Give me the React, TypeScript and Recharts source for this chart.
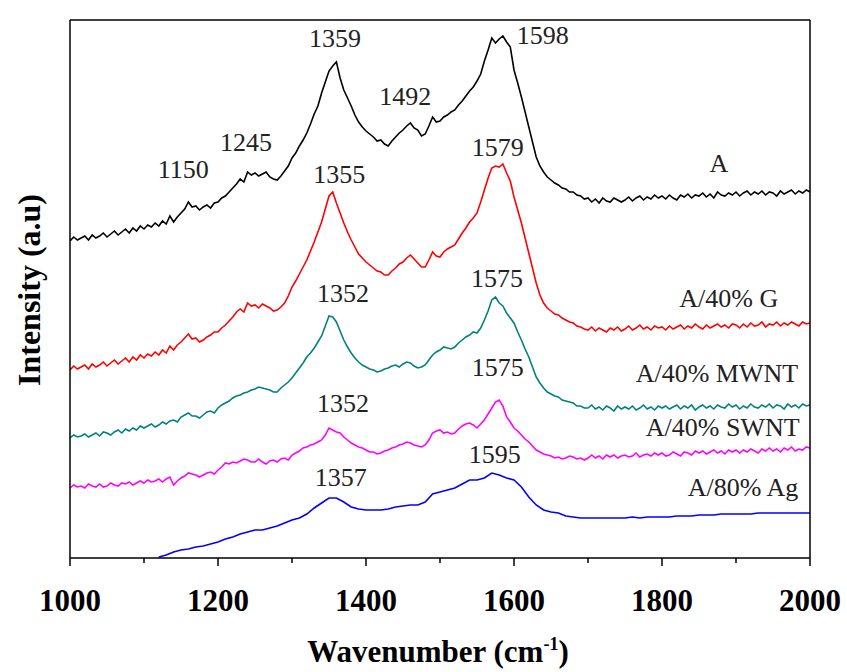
import React from 'react';
import { LineChart, Line, XAxis, YAxis, ReferenceDot, Label } from 'recharts';

// Raman shift grids (cm⁻¹)
const grid5: number[] = [];
for (let w = 1000; w <= 2000; w += 5) grid5.push(w);
const grid10: number[] = [];
for (let w = 1000; w <= 2000; w += 10) grid10.push(w);

// Offset-stacked intensities (a.u.), sampled every 5 cm⁻¹
const seriesA = [
  317, 321, 318, 320, 322, 318, 323, 320, 322, 325,
  321, 324, 327, 323, 326, 329, 325, 330, 327, 332,
  329, 333, 331, 335, 332, 337, 334, 342, 336, 341,
  345, 349, 356, 351, 352, 348, 351, 353, 350, 355,
  356, 360, 362, 366, 370, 374, 379, 376, 386, 383,
  385, 382, 384, 386, 381, 379, 378, 382, 387, 392,
  400, 405, 412, 418, 425, 434, 444, 452, 465, 476,
  487, 492, 496, 480, 468, 460, 452, 443, 436, 431,
  427, 424, 421, 417, 418, 414, 412, 417, 421, 425,
  428, 432, 435, 430, 428, 422, 424, 432, 441, 436,
  437, 441, 443, 446, 448, 453, 457, 462, 467, 471,
  477, 484, 497, 508, 520, 515, 519, 522, 516, 511,
  488, 475, 461, 446, 431, 416, 401, 392, 386, 381,
  378, 375, 373, 370, 369, 366, 366, 363, 362, 359,
  360, 356, 359, 355, 360, 357, 356, 360, 358, 356,
  358, 361, 357, 360, 362, 358, 361, 359, 363, 360,
  362, 359, 363, 360, 358, 363, 361, 364, 360, 363,
  362, 365, 361, 364, 360, 366, 363, 362, 365, 363,
  366, 362, 365, 367, 363, 366, 364, 367, 363, 366,
  365, 362, 367, 364, 366, 368, 364, 367, 365, 368,
  366,
];
const seriesG = [
  188, 192, 189, 191, 193, 189, 194, 191, 193, 196,
  192, 195, 198, 194, 197, 200, 196, 201, 198, 203,
  200, 204, 202, 206, 203, 208, 205, 212, 208, 213,
  216, 220, 224, 219, 220, 216, 218, 221, 223, 226,
  226, 230, 233, 237, 241, 246, 249, 246, 255, 252,
  253, 250, 254, 252, 250, 247, 248, 251, 255, 262,
  271, 277, 284, 291, 298, 307, 316, 326, 336, 349,
  362, 366, 355, 345, 335, 326, 318, 311, 304, 300,
  296, 293, 290, 287, 286, 283, 283, 287, 290, 294,
  296, 300, 303, 299, 295, 291, 291, 298, 306, 302,
  301, 306, 309, 311, 313, 319, 325, 330, 336, 340,
  345, 356, 368, 380, 390, 392, 391, 394, 385, 377,
  361, 348, 335, 320, 305, 290, 275, 263, 255, 250,
  247, 244, 243, 240, 238, 236, 235, 232, 231, 229,
  228, 231, 227, 230, 228, 226, 230, 228, 231, 227,
  229, 232, 228, 230, 233, 229, 231, 228, 232, 230,
  231, 228, 232, 229, 231, 233, 229, 232, 230, 234,
  231, 229, 233, 230, 232, 234, 231, 233, 230, 234,
  233, 230, 234, 231, 235, 232, 233, 236, 231, 234,
  233, 236, 232, 235, 233, 236, 234, 232, 236, 234,
  235,
];
const seriesMWNT = [
  120, 123, 121, 122, 124, 121, 123, 125, 122, 126,
  125, 123, 126, 128, 125, 129, 127, 130, 128, 132,
  130, 132, 134, 131, 133, 136, 134, 137, 138, 136,
  141, 143, 145, 142, 142, 140, 143, 146, 147, 145,
  150, 153, 155, 157, 160, 162, 163, 165, 166, 168,
  169, 171, 170, 169, 168, 166, 166, 170, 173, 176,
  180, 185, 190, 195, 201, 205, 210, 216, 222, 232,
  242, 241, 236, 227, 218, 211, 205, 200, 196, 193,
  191, 189, 188, 186, 187, 189, 190, 192, 193, 191,
  194, 196, 195, 192, 190, 191, 193, 198, 203, 206,
  208, 211, 210, 209, 211, 215, 218, 221, 223, 226,
  225, 230, 238, 247, 258, 261, 255, 252, 245, 240,
  235, 226, 218, 209, 201, 191, 181, 175, 170, 166,
  164, 162, 161, 158, 157, 156, 155, 152, 152, 150,
  150, 153, 149, 151, 148, 152, 150, 147, 152, 149,
  151, 149, 152, 148, 150, 153, 149, 151, 148, 152,
  150, 152, 149, 151, 153, 149, 152, 150, 153, 148,
  151, 153, 150, 152, 149, 153, 151, 150, 154, 151,
  153, 149, 152, 150, 154, 151, 150, 153, 151, 154,
  150, 153, 152, 149, 154, 151, 153, 150, 154, 152,
  153,
];
const seriesSWNT = [
  70, 73, 71, 72, 70, 74, 72, 71, 74, 71,
  72, 75, 73, 72, 75, 74, 76, 73, 75, 77,
  75, 78, 76, 77, 79, 76, 79, 81, 73, 77,
  80, 82, 85, 84, 83, 81, 83, 85, 86, 84,
  88, 91, 95, 94, 96, 95, 97, 99, 98, 96,
  96, 99, 96, 94, 97, 98, 96, 99, 100, 98,
  103, 105, 107, 110, 111, 113, 114, 116, 118, 123,
  130, 128, 126, 125, 121, 118, 115, 113, 111, 110,
  108, 106, 106, 104, 105, 107, 108, 110, 111, 113,
  114, 116, 115, 113, 112, 111, 113, 118, 125, 127,
  128, 125, 126, 124, 125, 129, 132, 134, 135, 133,
  130, 134, 138, 144, 150, 156, 158, 152, 141, 136,
  130, 127, 123, 119, 116, 112, 108, 106, 104, 103,
  102, 100, 101, 99, 100, 102, 101, 99, 100, 98,
  100, 103, 100, 102, 99, 103, 101, 103, 100, 102,
  103, 101, 102, 105, 101, 103, 104, 102, 105, 103,
  105, 102, 103, 106, 104, 102, 106, 105, 103, 107,
  105, 107, 104, 106, 108, 105, 107, 104, 108, 106,
  108, 105, 108, 106, 109, 107, 105, 109, 107, 110,
  107, 109, 106, 110, 108, 111, 107, 109, 108, 111,
  110,
];
// Smooth trace, sampled every 10 cm⁻¹ (starts just above the axis near 1120)
const seriesAg: (number | null)[] = [
  null, null, null, null, null, null, null, null, null, null,
  null, null, 1, 3, 6, 8, 9, 11, 12, 14,
  16, 19, 21, 24, 26, 28, 28, 30, 32, 35,
  38, 40, 44, 50, 55, 60, 60, 56, 51, 49,
  48, 48, 48, 49, 51, 52, 53, 53, 56, 64,
  66, 68, 70, 74, 78, 78, 80, 85, 83, 80,
  78, 71, 61, 53, 48, 46, 45, 42, 41, 40,
  40, 40, 40, 40, 40, 40, 41, 40, 41, 41,
  41, 41, 42, 42, 42, 43, 43, 43, 44, 44,
  44, 44, 44, 45, 45, 45, 45, 45, 45, 45,
  45,
];

const xTicks = [1000, 1100, 1200, 1300, 1400, 1500, 1600, 1700, 1800, 1900, 2000];

// Peak annotations: [label, wavenumber, intensity]
const peakLabels: [string, number, number][] = [
  ['1150', 1153, 389],
  ['1245', 1238, 416],
  ['1359', 1358, 520],
  ['1492', 1453, 462],
  ['1598', 1639, 523],
  ['1355', 1364, 384],
  ['1579', 1578, 411],
  ['1352', 1369, 265],
  ['1575', 1577, 280],
  ['1352', 1369, 155],
  ['1575', 1578, 191],
  ['1357', 1366, 81],
  ['1595', 1574, 104],
];

// Sample names, right-aligned at the given anchor
const sampleLabels: [string, number, number][] = [
  ['A/40% G', 1957, 260],
  ['A/40% MWNT', 1984, 185],
  ['A/40% SWNT', 1986, 131],
  ['A/80% Ag', 1984, 71],
];

const toRows = (grid: number[], values: (number | null)[]) =>
  grid.map((w, i) => ({ w, v: values[i] }));

const series = [
  { key: 'A', data: toRows(grid5, seriesA), color: '#000000' },
  { key: 'G', data: toRows(grid5, seriesG), color: '#ff0000' },
  { key: 'MWNT', data: toRows(grid5, seriesMWNT), color: '#008080' },
  { key: 'SWNT', data: toRows(grid5, seriesSWNT), color: '#ff00ff' },
  { key: 'Ag', data: toRows(grid10, seriesAg), color: '#0000ff' },
];

const SERIF = '"Liberation Serif", "Times New Roman", serif';
const AXIS_LINE = { stroke: '#000', strokeWidth: 1.5 };

const AxisTick = (props: any) => {
  const { x, y, payload } = props;
  const major = payload.value % 200 === 0;
  return (
    <g>
      <line x1={x} x2={x} y1={y} y2={y + (major ? 8 : 5)} stroke="#000" strokeWidth={1.5} />
      {major && (
        <text x={x} y={y + 53} textAnchor="middle" fontFamily={SERIF} fontWeight="bold" fontSize={31} fill="#000">
          {payload.value}
        </text>
      )}
    </g>
  );
};

const XTitle = () => (
  <text x={438} y={662} textAnchor="middle" fontFamily={SERIF} fontWeight="bold" fontSize={31} fill="#000">
    Wavenumber (cm<tspan dy={-12} fontSize={18}>-1</tspan>
    <tspan dy={12}>)</tspan>
  </text>
);

const YTitle = () => (
  <text
    transform="rotate(-90)"
    x={-290}
    y={40}
    textAnchor="middle"
    fontFamily={SERIF}
    fontWeight="bold"
    fontSize={32}
    fill="#000"
  >
    Intensity (a.u)
  </text>
);

const textStyle = { fontFamily: SERIF, fontSize: 26, fill: '#222' };

export default function App() {
  return (
    <div style={{ position: 'absolute', left: 0, top: 0, background: '#fff' }}>
      <LineChart width={847} height={672} margin={{ top: 19, right: 36, bottom: 0, left: 69 }}>
        <XAxis
          dataKey="w"
          type="number"
          domain={[1000, 2000]}
          allowDataOverflow
          ticks={xTicks}
          interval={0}
          height={114}
          tickSize={0}
          tickMargin={0}
          tickLine={false}
          tick={<AxisTick />}
          axisLine={AXIS_LINE}
        >
          <Label content={<XTitle />} />
        </XAxis>
        <XAxis
          xAxisId="top"
          orientation="top"
          dataKey="w"
          type="number"
          domain={[1000, 2000]}
          height={1}
          tick={false}
          tickLine={false}
          axisLine={AXIS_LINE}
        />
        <YAxis
          type="number"
          domain={[0, 538]}
          allowDataOverflow
          width={1}
          tick={false}
          tickLine={false}
          axisLine={AXIS_LINE}
        >
          <Label content={<YTitle />} />
        </YAxis>
        <YAxis
          yAxisId="right"
          orientation="right"
          type="number"
          domain={[0, 1]}
          width={1}
          tick={false}
          tickLine={false}
          axisLine={AXIS_LINE}
        />
        {series.map((s) => (
          <Line
            key={s.key}
            data={s.data}
            dataKey="v"
            name={s.key}
            type="linear"
            stroke={s.color}
            strokeWidth={1.6}
            dot={false}
            isAnimationActive={false}
          />
        ))}
        {peakLabels.map(([text, w, v], i) => (
          <ReferenceDot
            key={'p' + i}
            x={w}
            y={v}
            r={0}
            fill="none"
            stroke="none"
            label={{ value: text, position: 'center', ...textStyle }}
          />
        ))}
        <ReferenceDot
          x={1877}
          y={395}
          r={0}
          fill="none"
          stroke="none"
          label={{ value: 'A', position: 'center', ...textStyle }}
        />
        {sampleLabels.map(([text, w, v], i) => (
          <ReferenceDot
            key={'s' + i}
            x={w}
            y={v}
            r={0}
            fill="none"
            stroke="none"
            label={{ value: text, position: 'left', offset: 0, ...textStyle }}
          />
        ))}
      </LineChart>
    </div>
  );
}
